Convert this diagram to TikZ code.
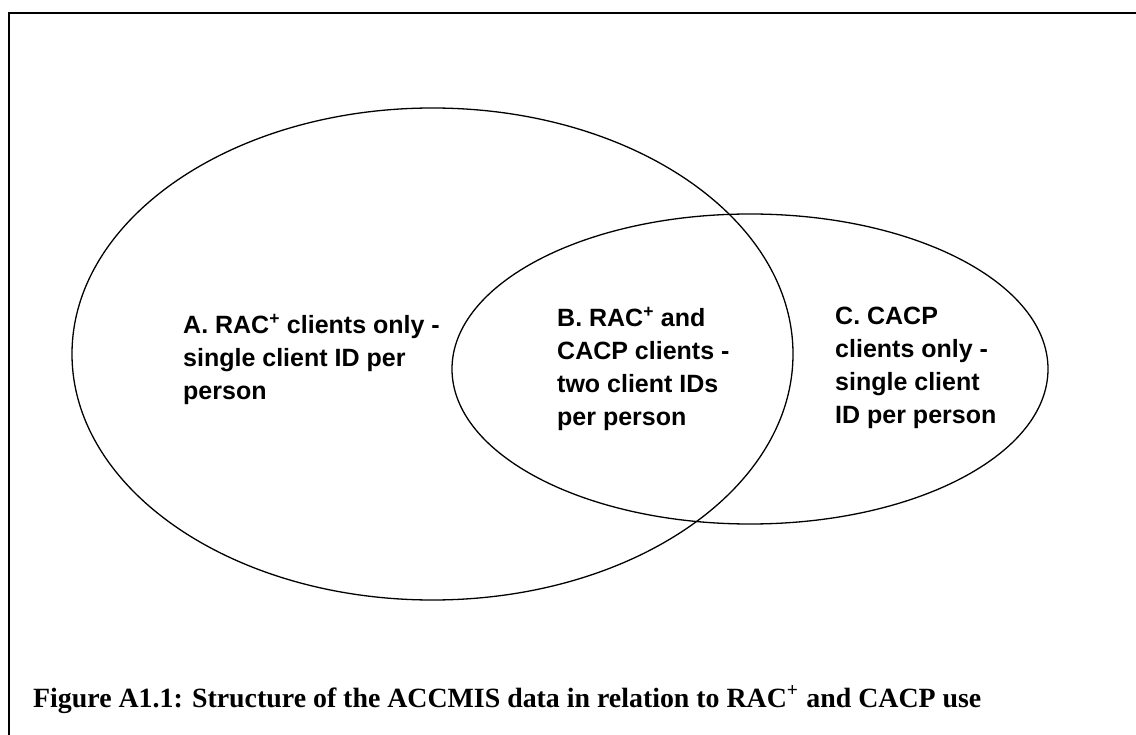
\documentclass[tikz,border=0pt]{standalone}
\usepackage{fontspec}
\setmainfont{Liberation Serif}
\newfontfamily\arialfam{Liberation Sans}
\usetikzlibrary{shapes.geometric}
\newcommand{\vlines}[1]{\vtop{\baselineskip=33pt\lineskiplimit=-100pt #1}}
\begin{document}
\begin{tikzpicture}[x=1pt,y=-1pt,
  frame/.style={line width=2pt},
  venn/.style={draw, ellipse, line width=1.3pt, inner sep=0pt},
  label/.style={anchor=base west, inner sep=0pt, font=\arialfam\bfseries\fontsize{25}{33}\selectfont},
  caption/.style={anchor=base west, inner sep=0pt}]
\useasboundingbox (0,0) rectangle (1136,735);
% frame (only left and top edges are visible)
\coordinate (fbl) at (9,740);
\coordinate (ftl) at (9,13);
\coordinate (ftr) at (1140,13);
\draw[frame] (fbl) -- (ftl) -- (ftr);
% ellipses
\node[venn, minimum width=721pt, minimum height=492pt] (A) at (432.5,354) {};
\node[venn, minimum width=596pt, minimum height=310pt] (C) at (750,369) {};
% labels
\node[label] (la) at (183,334) {\vlines{\hbox{A. RAC\textsuperscript{+} clients only -}\hbox{single client ID per}\hbox{person}}};
\node[label] (lb) at (557,327) {\vlines{\hbox{B. RAC\textsuperscript{+} and}\hbox{CACP clients -}\hbox{two client IDs}\hbox{per person}}};
\node[label] (lc) at (835,325) {\vlines{\hbox{C. CACP}\hbox{clients only -}\hbox{single client}\hbox{ID per person}}};
% caption
\node[caption] (cap) at (33,707) {\resizebox{948pt}{!}{\bfseries Figure A1.1: Structure of the ACCMIS data in relation to RAC\textsuperscript{+} and CACP use}};
\end{tikzpicture}
\end{document}
